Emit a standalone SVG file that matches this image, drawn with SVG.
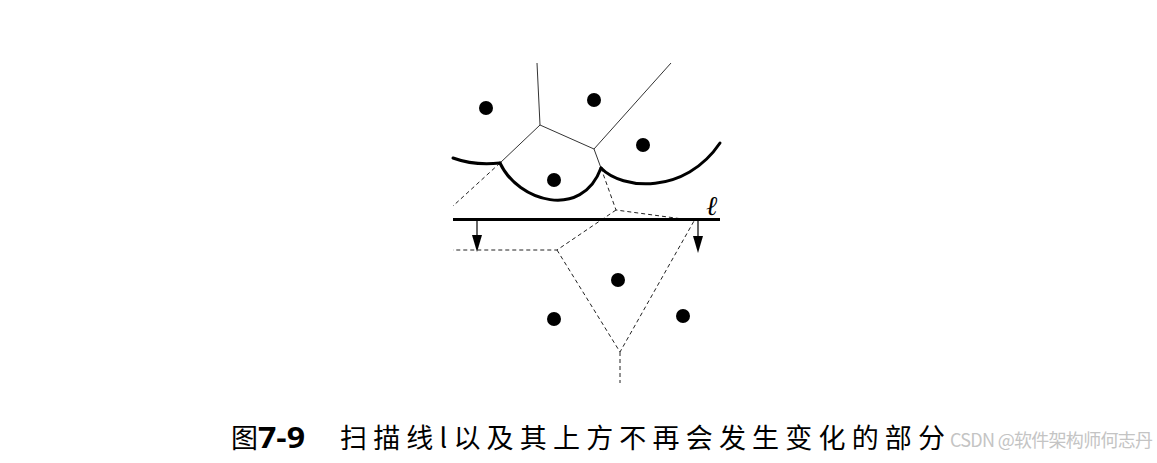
<svg xmlns="http://www.w3.org/2000/svg" width="1157" height="463" viewBox="0 0 1157 463">
<style>
.edge{stroke:#333;stroke-width:1;fill:none}
.dash{stroke:#222;stroke-width:1;fill:none;stroke-dasharray:4,3}
.beach{stroke:#000;stroke-width:3;fill:none;stroke-linecap:round}
.site{fill:#000}
.cap{font-family:"Noto Sans CJK SC","Noto Sans",sans-serif;font-size:27px;fill:#000}
</style>
<rect width="1157" height="463" fill="#fff"/>
<g id="connectors">
<path class="edge" d="M537,63 L540,125 L500,163 M540,125 L594,149 L671,63 M594,149 L601,168"/>
<path class="dash" d="M500,163 L453,206 M601,168 L616,210 L690,220 M616,210 L557,250 L453,250 M557,250 L620,352 L694,221 M620,352 L620,383"/>
</g>
<g id="beachline">
<path class="beach" d="M453,158 Q475,166 500,163"/>
<path class="beach" d="M500,163 C518,202 582,220 601,168"/>
<path class="beach" d="M601,168 C622,190 685,195 720,143"/>
</g>
<g id="sweepline">
<line x1="453" y1="219.5" x2="720" y2="219.5" stroke="#000" stroke-width="3"/>
<line x1="477" y1="220" x2="477" y2="237" stroke="#000" stroke-width="1.2"/>
<polygon points="472,235 482,235 477,252" fill="#000"/>
<line x1="698" y1="220" x2="698" y2="238" stroke="#000" stroke-width="1.2"/>
<polygon points="693,236 703,236 698,253" fill="#000"/>
<text x="706" y="215" font-family="DejaVu Serif,serif" font-style="italic" font-size="27" fill="#000">ℓ</text>
</g>
<g id="sites">
<circle class="site" cx="486" cy="108" r="7"/>
<circle class="site" cx="594" cy="100" r="7"/>
<circle class="site" cx="643" cy="145" r="7"/>
<circle class="site" cx="554" cy="180" r="7"/>
<circle class="site" cx="618" cy="280" r="7"/>
<circle class="site" cx="554" cy="319" r="7"/>
<circle class="site" cx="683" cy="316" r="7"/>
</g>
<g id="caption">
<text class="cap" x="231" y="448" font-size="28">图</text>
<text x="258" y="448" font-family="Open Sans,sans-serif" font-weight="bold" font-size="28" textLength="47" lengthAdjust="spacingAndGlyphs">7-9</text>
<text class="cap" x="340" y="448" textLength="605" lengthAdjust="spacing">扫描线l以及其上方不再会发生变化的部分</text>
<text x="950" y="447" font-family="Noto Sans CJK SC,sans-serif" font-size="18" fill="#c4c4c4" textLength="203" lengthAdjust="spacing">CSDN @软件架构师何志丹</text>
</g>
</svg>
